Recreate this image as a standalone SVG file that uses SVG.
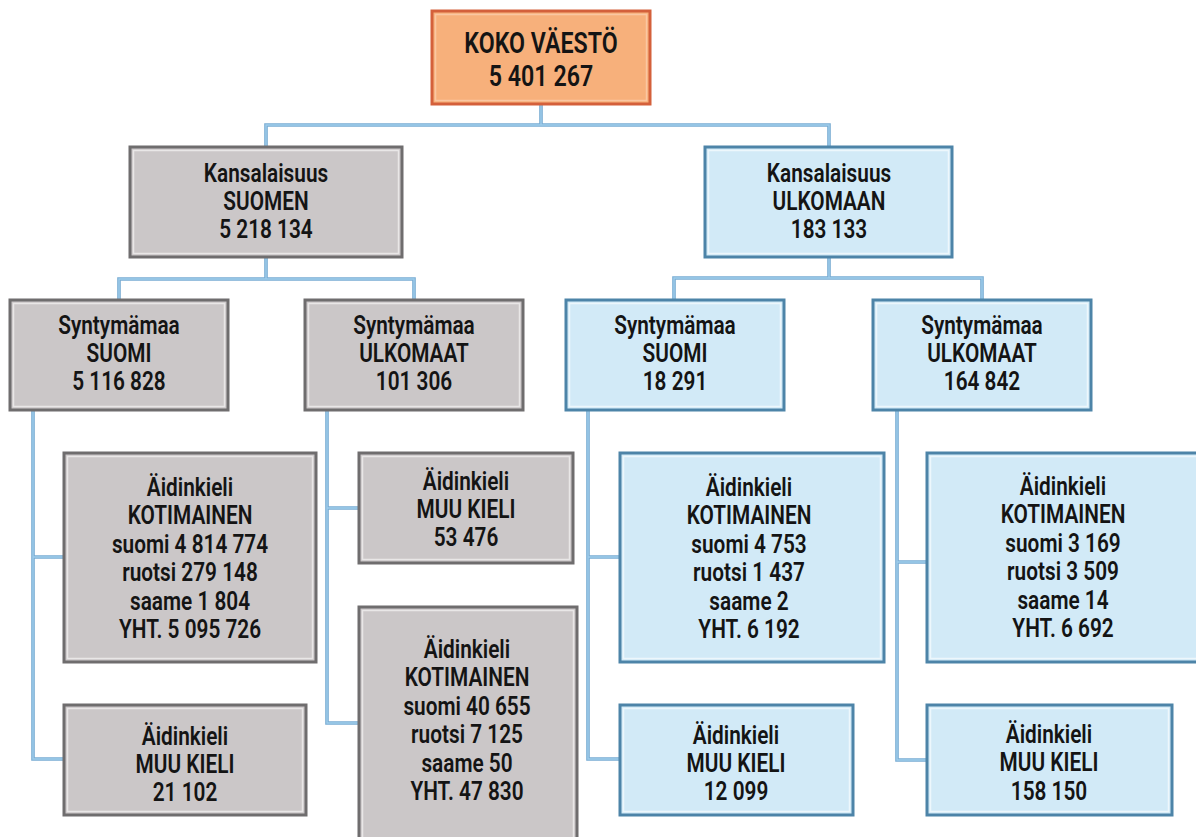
<svg xmlns="http://www.w3.org/2000/svg" width="1196" height="837" viewBox="0 0 1196 837">
<style>
  .bg{fill:#ffffff}
  .gray .o{fill:#cbc7c8;stroke:#6f6d6e;stroke-width:3}
  .gray .i{fill:none;stroke:#e9e7e7;stroke-width:1.5}
  .blue .o{fill:#d2eaf7;stroke:#4d84a8;stroke-width:3}
  .blue .i{fill:none;stroke:#edf7fc;stroke-width:1.5}
  .orange .o{fill:#f7b07b;stroke:#d4603b;stroke-width:3}
  .orange .i{fill:none;stroke:#fac7a2;stroke-width:1.5}
  text{font-family:"Roboto","Liberation Sans",sans-serif;font-weight:600;font-size:26px;fill:#141414;text-anchor:middle}
  .big{font-size:29px}
  .conn-o{fill:none;stroke:#78acd3;stroke-width:3.6;stroke-linejoin:miter}
  .conn-i{fill:none;stroke:#9fcdec;stroke-width:1.4;stroke-linejoin:miter}
</style>
<rect class="bg" x="0" y="0" width="1196" height="837"/>

<g id="connectors">
  <path id="c-paths" class="conn-o" d="M541,104 V125 M266,147 V125 H829 V147 M266,257 V279 M119,300 V279 H414 V300 M829,257 V278 M674,300 V278 H982 V300 M33,411 V759 H64 M33,557 H64 M327,411 V723 H359 M327,508 H359 M588,410 V759 H620 M588,557 H620 M897,410 V760 H927 M897,562 H927"/>
  <path class="conn-i" d="M541,104 V125 M266,147 V125 H829 V147 M266,257 V279 M119,300 V279 H414 V300 M829,257 V278 M674,300 V278 H982 V300 M33,411 V759 H64 M33,557 H64 M327,411 V723 H359 M327,508 H359 M588,410 V759 H620 M588,557 H620 M897,410 V760 H927 M897,562 H927"/>
</g>

<g id="n-koko" class="orange">
  <rect class="o" x="432" y="11" width="218" height="93"/>
  <rect class="i" x="435.5" y="14.5" width="211" height="86"/>
  <text class="big" transform="translate(541 0) scale(0.8 1)"><tspan x="0" y="53">KOKO VÄESTÖ</tspan><tspan x="0" y="86">5 401 267</tspan></text>
</g>

<g id="n-kans-suomen" class="gray">
  <rect class="o" x="130" y="147" width="272" height="110"/>
  <rect class="i" x="133.5" y="150.5" width="265" height="103"/>
  <text transform="translate(266 0) scale(0.8 1)"><tspan x="0" y="182">Kansalaisuus</tspan><tspan x="0" y="210">SUOMEN</tspan><tspan x="0" y="238">5 218 134</tspan></text>
</g>

<g id="n-kans-ulkomaan" class="blue">
  <rect class="o" x="705" y="147" width="247" height="110"/>
  <rect class="i" x="708.5" y="150.5" width="240" height="103"/>
  <text transform="translate(829 0) scale(0.8 1)"><tspan x="0" y="182">Kansalaisuus</tspan><tspan x="0" y="210">ULKOMAAN</tspan><tspan x="0" y="238">183 133</tspan></text>
</g>

<g id="n-g-synt-suomi" class="gray">
  <rect class="o" x="10" y="300" width="218" height="110"/>
  <rect class="i" x="13.5" y="303.5" width="211" height="103"/>
  <text transform="translate(119 0) scale(0.8 1)"><tspan x="0" y="334">Syntymämaa</tspan><tspan x="0" y="362">SUOMI</tspan><tspan x="0" y="390">5 116 828</tspan></text>
</g>

<g id="n-g-synt-ulko" class="gray">
  <rect class="o" x="305" y="300" width="218" height="110"/>
  <rect class="i" x="308.5" y="303.5" width="211" height="103"/>
  <text transform="translate(414 0) scale(0.8 1)"><tspan x="0" y="334">Syntymämaa</tspan><tspan x="0" y="362">ULKOMAAT</tspan><tspan x="0" y="390">101 306</tspan></text>
</g>

<g id="n-b-synt-suomi" class="blue">
  <rect class="o" x="566" y="300" width="218" height="110"/>
  <rect class="i" x="569.5" y="303.5" width="211" height="103"/>
  <text transform="translate(675 0) scale(0.8 1)"><tspan x="0" y="334">Syntymämaa</tspan><tspan x="0" y="362">SUOMI</tspan><tspan x="0" y="390">18 291</tspan></text>
</g>

<g id="n-b-synt-ulko" class="blue">
  <rect class="o" x="873" y="300" width="218" height="110"/>
  <rect class="i" x="876.5" y="303.5" width="211" height="103"/>
  <text transform="translate(982 0) scale(0.8 1)"><tspan x="0" y="334">Syntymämaa</tspan><tspan x="0" y="362">ULKOMAAT</tspan><tspan x="0" y="390">164 842</tspan></text>
</g>

<g id="n-g-koti-1" class="gray">
  <rect class="o" x="64" y="453" width="252" height="209"/>
  <rect class="i" x="67.5" y="456.5" width="245" height="202"/>
  <text transform="translate(190 0) scale(0.8 1)"><tspan x="0" y="496">Äidinkieli</tspan><tspan x="0" y="524.5">KOTIMAINEN</tspan><tspan x="0" y="553">suomi 4 814 774</tspan><tspan x="0" y="581.5">ruotsi 279 148</tspan><tspan x="0" y="610">saame 1 804</tspan><tspan x="0" y="638.5">YHT. 5 095 726</tspan></text>
</g>

<g id="n-g-muu-1" class="gray">
  <rect class="o" x="64" y="705" width="242" height="110"/>
  <rect class="i" x="67.5" y="708.5" width="235" height="103"/>
  <text transform="translate(185 0) scale(0.8 1)"><tspan x="0" y="745">Äidinkieli</tspan><tspan x="0" y="773">MUU KIELI</tspan><tspan x="0" y="801">21 102</tspan></text>
</g>

<g id="n-g-muu-2" class="gray">
  <rect class="o" x="359" y="453" width="214" height="110"/>
  <rect class="i" x="362.5" y="456.5" width="207" height="103"/>
  <text transform="translate(466 0) scale(0.8 1)"><tspan x="0" y="490">Äidinkieli</tspan><tspan x="0" y="518">MUU KIELI</tspan><tspan x="0" y="546">53 476</tspan></text>
</g>

<g id="n-g-koti-2" class="gray">
  <rect class="o" x="359" y="607" width="218" height="240"/>
  <rect class="i" x="362.5" y="610.5" width="211" height="233"/>
  <text transform="translate(467 0) scale(0.8 1)"><tspan x="0" y="658">Äidinkieli</tspan><tspan x="0" y="686.5">KOTIMAINEN</tspan><tspan x="0" y="715">suomi 40 655</tspan><tspan x="0" y="743.5">ruotsi 7 125</tspan><tspan x="0" y="772">saame 50</tspan><tspan x="0" y="800.5">YHT. 47 830</tspan></text>
</g>

<g id="n-b-koti-1" class="blue">
  <rect class="o" x="620" y="453" width="264" height="209"/>
  <rect class="i" x="623.5" y="456.5" width="257" height="202"/>
  <text transform="translate(749 0) scale(0.8 1)"><tspan x="0" y="496">Äidinkieli</tspan><tspan x="0" y="524.5">KOTIMAINEN</tspan><tspan x="0" y="553">suomi 4 753</tspan><tspan x="0" y="581.5">ruotsi 1 437</tspan><tspan x="0" y="610">saame 2</tspan><tspan x="0" y="638.5">YHT. 6 192</tspan></text>
</g>

<g id="n-b-muu-1" class="blue">
  <rect class="o" x="620" y="705" width="233" height="110"/>
  <rect class="i" x="623.5" y="708.5" width="226" height="103"/>
  <text transform="translate(736 0) scale(0.8 1)"><tspan x="0" y="744">Äidinkieli</tspan><tspan x="0" y="772">MUU KIELI</tspan><tspan x="0" y="800">12 099</tspan></text>
</g>

<g id="n-b-koti-2" class="blue">
  <rect class="o" x="927" y="453" width="274" height="209"/>
  <rect class="i" x="930.5" y="456.5" width="267" height="202"/>
  <text transform="translate(1063 0) scale(0.8 1)"><tspan x="0" y="495">Äidinkieli</tspan><tspan x="0" y="523.5">KOTIMAINEN</tspan><tspan x="0" y="552">suomi 3 169</tspan><tspan x="0" y="580.5">ruotsi 3 509</tspan><tspan x="0" y="609">saame 14</tspan><tspan x="0" y="637.5">YHT. 6 692</tspan></text>
</g>

<g id="n-b-muu-2" class="blue">
  <rect class="o" x="927" y="705" width="245" height="110"/>
  <rect class="i" x="930.5" y="708.5" width="238" height="103"/>
  <text transform="translate(1049 0) scale(0.8 1)"><tspan x="0" y="743">Äidinkieli</tspan><tspan x="0" y="771.5">MUU KIELI</tspan><tspan x="0" y="800">158 150</tspan></text>
</g>
</svg>
